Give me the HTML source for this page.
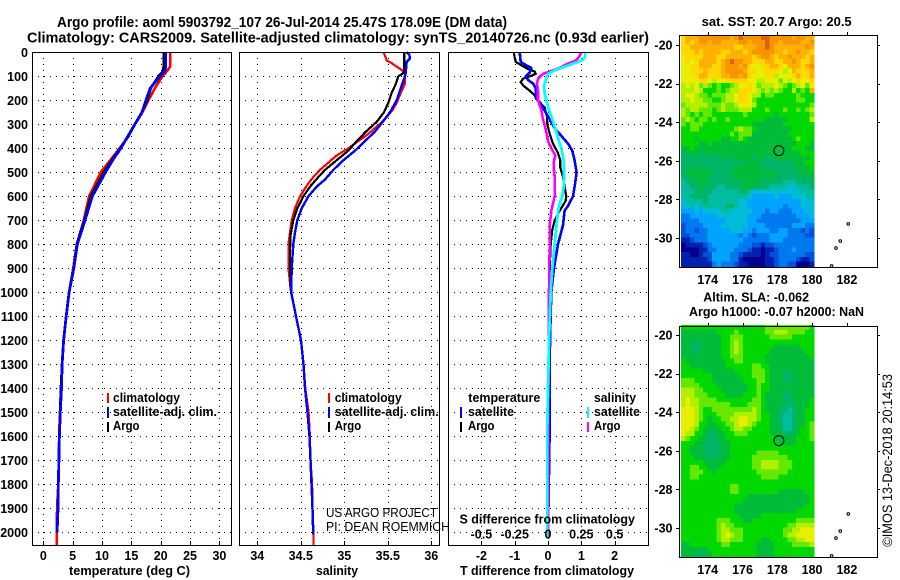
<!DOCTYPE html>
<html lang="en">
<head>
<meta charset="utf-8">
<title>Argo profile 5903792_107</title>
<style>
html,body{margin:0;padding:0;background:#fff;width:900px;height:580px;overflow:hidden}
svg{display:block}
text{font-family:"Liberation Sans",sans-serif;fill:#000}
.b{font-weight:bold;font-size:12.5px}
.t{font-weight:bold;font-size:15px}
.n{font-size:13px}
</style>
</head>
<body>
<svg id="chart" xmlns="http://www.w3.org/2000/svg" width="900" height="580" viewBox="0 0 900 580">
<g id="maps"></g>
<g id="profiles"></g>
<text class="t" x="57" y="27" textLength="450" lengthAdjust="spacingAndGlyphs">Argo profile: aoml 5903792_107 26-Jul-2014 25.47S 178.09E (DM data)</text>
<text class="t" x="27" y="42.7" textLength="622" lengthAdjust="spacingAndGlyphs">Climatology: CARS2009. Satellite-adjusted climatology: synTS_20140726.nc (0.93d earlier)</text>

<text class="b" x="69" y="575" textLength="121" lengthAdjust="spacingAndGlyphs">temperature (deg C)</text>
<text class="b" x="316" y="575" textLength="42" lengthAdjust="spacingAndGlyphs">salinity</text>
<text class="b" x="460" y="575" textLength="174" lengthAdjust="spacingAndGlyphs">T difference from climatology</text>
<text class="b" x="459.5" y="523.5" textLength="175.5" lengthAdjust="spacingAndGlyphs">S difference from climatology</text>

<g>
<rect x="107" y="393" width="2" height="10" fill="#f00"/>
<text class="b" x="113" y="402" textLength="67" lengthAdjust="spacingAndGlyphs">climatology</text>
<rect x="107" y="407" width="2" height="11" fill="#00f"/>
<text class="b" x="113" y="416" textLength="104" lengthAdjust="spacingAndGlyphs">satellite-adj. clim.</text>
<rect x="107" y="422" width="2" height="10" fill="#000"/>
<text class="b" x="113" y="430" textLength="26.5" lengthAdjust="spacingAndGlyphs">Argo</text>
</g>
<g>
<rect x="328" y="393" width="2" height="10" fill="#f00"/>
<text class="b" x="334.7" y="402" textLength="67" lengthAdjust="spacingAndGlyphs">climatology</text>
<rect x="328" y="407" width="2" height="11" fill="#00f"/>
<text class="b" x="334.7" y="416" textLength="104" lengthAdjust="spacingAndGlyphs">satellite-adj. clim.</text>
<rect x="328" y="422" width="2" height="10" fill="#000"/>
<text class="b" x="334.7" y="430" textLength="26.5" lengthAdjust="spacingAndGlyphs">Argo</text>
</g>
<g>
<text class="b" x="468.3" y="402" textLength="72" lengthAdjust="spacingAndGlyphs">temperature</text>
<rect x="460" y="407" width="2" height="11" fill="#00f"/>
<text class="b" x="468" y="416" textLength="46" lengthAdjust="spacingAndGlyphs">satellite</text>
<rect x="460" y="422" width="2" height="10" fill="#000"/>
<text class="b" x="468" y="430" textLength="26.5" lengthAdjust="spacingAndGlyphs">Argo</text>
<text class="b" x="594" y="402" textLength="42" lengthAdjust="spacingAndGlyphs">salinity</text>
<rect x="587" y="407" width="2" height="11" fill="#0ff"/>
<text class="b" x="594" y="416" textLength="46" lengthAdjust="spacingAndGlyphs">satellite</text>
<rect x="587" y="422" width="2" height="10" fill="#f0f"/>
<text class="b" x="594" y="430" textLength="26.5" lengthAdjust="spacingAndGlyphs">Argo</text>
</g>

<text class="n" x="326" y="517" textLength="111" lengthAdjust="spacingAndGlyphs">US ARGO PROJECT</text>
<text class="n" x="326" y="531" textLength="124" lengthAdjust="spacingAndGlyphs">PI: DEAN ROEMMICH</text>

<text class="b" x="701.7" y="26" textLength="150" lengthAdjust="spacingAndGlyphs">sat. SST: 20.7 Argo: 20.5</text>
<text class="b" x="703.3" y="301.7" textLength="105.7" lengthAdjust="spacingAndGlyphs">Altim. SLA: -0.062</text>
<text class="b" x="689" y="316" textLength="175" lengthAdjust="spacingAndGlyphs">Argo h1000: -0.07 h2000: NaN</text>
<text class="n" transform="translate(892,546.7) rotate(-90)" x="0" y="0" textLength="172.7" lengthAdjust="spacingAndGlyphs" style="font-size:14px">©IMOS 13-Dec-2018 20:14:53</text>
</svg>

<script>
/* ---------- axis ticks ---------- */
const depthTicks = [0,100,200,300,400,500,600,700,800,900,1000,1100,1200,1300,1400,1500,1600,1700,1800,1900,2000];
const tempTicks = [0,5,10,15,20,25,30];
const salinityTicks = [34,34.5,35,35.5,36];
const tDiffTicks = [-2,-1,0,1,2];
const sDiffTicks = [-0.5,-0.25,0,0.25,0.5];
const lonTicks = [174,176,178,180,182];
const latTicks = [-20,-22,-24,-26,-28,-30];

/* ---------- temperature panel (deg C) ---------- */
const tempDepths = [0,60,80,100,150,200,250,300,350,400,450,500,600,700,800,900,1000,1100,1200,1300,1400,1500,1600,1700,1800,1900,2000,2055];
const tempClim = [21.6,21.6,21.0,20.3,19.0,17.9,16.9,15.6,14.5,13.0,11.4,9.8,7.8,6.9,5.7,5.1,4.4,3.9,3.45,3.2,3.0,2.85,2.7,2.65,2.55,2.35,2.3,2.3];
const tempArgo = [20.5,20.5,20.4,19.6,18.3,17.7,16.8,15.6,14.5,13.1,11.65,10.3,8.1,7.0,5.7,5.2,4.4,3.9,3.45,3.2,3.0,2.9,2.75,2.65,2.55,2.5,2.35];
const tempSat = [20.85,20.85,20.7,19.9,18.2,17.5,16.8,15.6,14.4,13.2,11.8,10.6,8.35,7.1,5.8,5.2,4.4,3.9,3.45,3.2,3.1,2.9,2.75,2.65,2.55,2.5,2.35];

/* ---------- salinity panel ---------- */
const salClimDepths = [0,20,35,45,60,75,90,130,170,210,240,270,300,340,380,400,430,460,490,520,550,600,650,700,750,800,900,1000,1100,1200,1300,1400,1500,1600,1700,1800,1900,2000,2055];
const salClim = [35.449,35.475,35.487,35.544,35.602,35.667,35.698,35.698,35.648,35.602,35.556,35.487,35.403,35.276,35.123,35.046,34.912,34.816,34.721,34.644,34.579,34.491,34.433,34.395,34.376,34.357,34.357,34.387,34.445,34.502,34.531,34.552,34.59,34.605,34.611,34.63,34.634,34.645,34.645];
const salArgoDepths = [0,80,90,100,130,170,210,250,290,330,370,410,450,490,520,560,600,650,700,760,830,900,1000,1100,1200,1300,1400,1500,1600,1700,1800,1900,2000];
const salArgo = [35.69,35.69,35.667,35.621,35.594,35.544,35.506,35.456,35.372,35.249,35.142,35.046,34.912,34.778,34.701,34.606,34.529,34.46,34.414,34.383,34.376,34.376,34.387,34.445,34.502,34.531,34.548,34.577,34.6,34.611,34.623,34.634,34.64];
const salSatDepths = [0,10,25,40,90,120,150,200,250,290,330,370,410,450,490,530,560,600,650,700,750,800,900,1000,1100,1200,1300,1400,1500,1600,1700,1800,1900,2010];
const salSat = [35.717,35.747,35.755,35.717,35.705,35.678,35.648,35.602,35.525,35.441,35.353,35.238,35.123,34.989,34.874,34.778,34.682,34.587,34.51,34.46,34.433,34.414,34.395,34.39,34.445,34.502,34.531,34.548,34.577,34.6,34.611,34.623,34.634,34.645];

/* ---------- difference panel ---------- */
const dTArgoDepths = [0,20,40,50,70,80,90,100,110,125,140,160,180,200,230,270,300,340,380,420,450,480,520,560,600,620,660,700,740,800,900,1000,1200,1400,1560];
const dTArgo = [-1.03,-1.0,-0.97,-0.85,-0.6,-0.4,-0.37,-0.55,-0.75,-0.82,-0.73,-0.55,-0.4,-0.3,-0.1,-0.03,-0.02,0.05,0.15,0.3,0.37,0.37,0.45,0.5,0.55,0.53,0.35,0.2,0.13,0.08,0.05,0.05,0.04,0.05,0.05];
const dTSatDepths = [0,40,55,65,85,100,115,130,150,190,220,250,280,320,340,360,380,410,450,500,550,600,640,660,720,800,900,1000,1200,1400,1560,2020];
const dTSat = [-0.85,-0.82,-0.65,-0.5,-0.55,-0.67,-0.6,-0.45,-0.37,-0.37,-0.2,-0.07,0.05,0.22,0.35,0.47,0.6,0.73,0.8,0.86,0.81,0.75,0.6,0.5,0.45,0.3,0.18,0.1,0.06,0.05,0.05,0];
const dSSatDepths = [0,20,35,50,65,75,90,110,140,170,200,240,290,340,370,400,450,500,560,600,640,700,800,900,1000,1200,1560,2020];
const dSSat = [0.28,0.28,0.25,0.175,0.1,0.05,0,-0.0125,-0.03,-0.025,-0.0125,0.0075,0.0375,0.0675,0.0825,0.1,0.1175,0.12,0.1175,0.1075,0.0825,0.0675,0.05,0.0325,0.02,0.0075,-0.005,-0.005];
const dSArgoDepths = [0,20,35,50,65,80,90,110,130,160,200,240,280,320,370,400,430,460,480,520,600,660,720,800,1000,1500,2020];
const dSArgo = [0.25,0.2325,0.2075,0.1375,0.0875,0.0125,-0.0375,-0.075,-0.0825,-0.075,-0.075,-0.05,-0.0375,-0.0175,0,0.025,0.055,0.0425,0.0425,0.05,0.05,0.025,0.0125,0.0125,0.0075,0.0025,0];

/* ---------- map data: colour-scale levels, row = latitude band, col = longitude ---------- */
const sstLevels = [
[13,14,14,14,15,15,15,15,15,15,15,14,15,16,15,15,15,15,16,16,15,15,15,15,15,14,15,15,14,14],
[13,14,13,14,15,15,14,15,15,14,14,14,14,15,15,14,15,15,15,16,15,15,14,15,15,15,15,14,14,15],
[13,13,14,14,14,14,14,14,14,14,14,14,13,13,14,14,14,15,15,16,15,14,14,14,14,14,14,14,15,14],
[13,13,13,14,13,14,14,14,14,13,13,14,14,14,13,14,15,15,15,15,15,14,14,13,14,14,15,14,14,13],
[12,13,13,13,13,14,14,14,13,13,14,14,14,14,14,14,13,14,15,15,14,13,14,14,15,14,14,14,13,14],
[12,13,12,13,14,14,14,14,13,14,15,16,15,15,14,14,13,13,13,14,14,13,13,14,14,15,14,13,13,14],
[12,12,13,13,14,14,14,13,13,14,15,15,15,14,15,13,12,12,13,13,14,14,13,12,14,14,14,13,14,15],
[12,12,13,13,13,14,13,13,13,14,15,15,15,15,14,13,13,12,12,13,13,13,12,11,12,14,13,13,13,14],
[12,12,12,13,14,14,13,13,13,14,14,15,15,14,15,13,12,12,12,13,13,11,12,12,12,13,14,13,13,14],
[12,12,12,12,13,13,12,11,12,12,13,13,13,13,13,12,12,11,11,12,12,12,10,12,11,12,13,12,12,13],
[11,12,11,12,10,11,10,9,10,9,9,10,11,12,12,13,12,10,11,11,11,12,11,10,9,10,11,12,10,12],
[11,11,11,12,11,9,9,9,10,9,10,11,11,13,13,13,12,11,10,11,10,11,10,9,9,11,9,10,9,14],
[11,12,12,11,10,10,9,10,10,10,11,11,12,13,13,12,11,11,9,10,10,9,9,9,9,9,10,9,9,9],
[11,11,12,11,11,10,10,9,9,10,11,11,12,13,13,12,10,9,9,9,9,9,9,9,9,9,10,10,9,9],
[10,11,11,11,11,11,10,10,10,11,10,10,11,12,12,12,11,9,9,9,9,9,9,9,9,9,9,9,9,10],
[11,10,11,11,10,10,10,9,10,11,10,10,10,11,11,11,9,9,9,10,9,9,9,10,9,9,10,9,10,11],
[11,10,9,10,9,10,10,9,9,9,9,9,9,9,10,9,9,9,9,9,9,8,9,9,9,9,9,9,9,10],
[10,11,10,9,10,10,9,10,9,9,10,9,9,9,9,9,9,9,9,8,8,8,8,8,9,9,9,9,9,11],
[10,9,10,10,10,9,9,9,9,9,9,9,9,9,9,9,8,8,8,8,8,8,8,9,9,9,9,9,9,9],
[9,9,10,10,9,9,9,9,9,9,9,9,10,11,10,10,9,8,8,8,8,8,8,8,8,9,9,9,9,9],
[9,9,9,9,9,9,9,9,9,9,9,10,9,10,10,10,8,8,8,8,8,8,8,8,9,9,9,9,9,9],
[9,9,9,8,9,9,9,9,9,8,8,9,9,10,9,8,8,8,8,8,8,8,8,8,8,9,10,9,9,9],
[9,9,9,9,8,8,9,8,8,8,8,8,8,8,8,8,8,8,8,8,8,8,8,8,8,8,9,9,9,8],
[8,8,9,8,8,8,8,8,8,8,8,8,8,8,8,8,8,8,8,8,8,8,8,8,8,9,9,9,8,8],
[7,8,8,8,7,8,8,8,8,8,8,8,8,8,8,8,8,8,8,8,8,8,8,8,8,8,8,9,9,9],
[7,7,7,7,7,7,7,7,7,7,8,7,8,8,8,8,7,8,8,7,7,8,8,8,8,8,8,8,8,9],
[7,7,7,7,7,7,7,7,7,7,7,7,7,7,8,8,8,8,7,7,7,7,7,7,7,8,8,8,9,9],
[7,7,8,7,8,7,7,7,7,7,7,7,8,8,8,8,8,8,7,7,7,7,7,7,7,7,8,8,8,9],
[7,8,8,8,8,8,8,7,7,7,7,8,8,8,8,8,8,8,8,8,8,7,7,7,7,7,7,8,8,8],
[7,7,8,8,8,8,7,7,7,7,7,7,8,8,8,8,8,8,7,8,8,7,7,7,7,7,7,7,7,8],
[6,7,7,7,8,8,7,7,7,7,7,7,7,7,8,8,8,8,7,7,7,7,7,6,6,6,7,7,7,7],
[6,6,7,7,8,7,7,7,6,6,7,7,7,7,8,8,7,7,7,7,6,6,6,6,5,5,6,6,6,7],
[6,6,6,7,7,7,7,6,6,6,6,6,6,7,7,6,5,5,5,5,5,5,5,5,5,5,5,6,6,6],
[6,6,7,7,7,7,6,6,6,6,6,6,6,6,6,5,4,4,4,4,4,5,4,4,4,5,5,5,6,6],
[5,6,6,6,6,7,6,6,6,6,6,6,6,5,5,4,4,4,4,4,4,4,4,4,4,4,4,5,5,5],
[5,5,6,5,6,6,6,6,6,6,7,7,6,5,5,4,4,4,4,4,4,4,4,3,4,4,4,5,5,5],
[4,4,4,5,4,5,5,5,5,6,6,5,5,5,5,5,4,4,4,3,4,4,3,3,3,4,4,4,5,5],
[3,3,4,4,4,4,4,4,5,5,5,5,5,5,5,4,4,4,3,3,3,3,3,3,3,3,4,4,4,5],
[3,3,3,3,4,4,4,4,4,4,5,5,5,5,5,4,4,3,3,3,3,3,3,3,3,3,3,4,4,4],
[2,3,3,3,3,4,4,4,4,5,5,5,5,5,5,4,4,4,4,3,3,3,3,3,3,4,4,4,3,3],
[2,3,3,2,3,3,4,4,4,4,4,5,5,5,4,4,3,4,4,4,3,3,4,4,3,3,3,2,3,2],
[2,2,3,3,3,3,4,4,4,4,4,4,4,3,4,3,2,3,3,3,4,4,4,4,3,3,3,3,2,2],
[1,1,2,3,3,3,4,4,4,4,4,4,4,4,3,3,3,3,3,3,4,4,4,3,3,3,3,3,3,3],
[0,1,1,1,1,2,3,4,4,4,4,4,4,3,3,3,2,2,1,2,2,3,3,3,3,3,3,3,3,3],
[0,0,0,0,1,1,3,3,4,4,4,4,3,3,3,2,1,1,0,1,1,2,3,3,3,4,3,3,3,3],
[1,1,0,0,1,2,2,4,4,4,4,3,3,2,1,1,1,1,0,1,2,2,3,3,3,3,3,3,2,2],
[1,1,1,1,1,1,2,4,4,4,4,3,3,1,0,0,0,0,0,1,1,2,3,3,3,3,2,1,1,2],
[1,1,1,1,1,1,1,3,4,3,3,3,2,1,1,0,0,0,0,1,1,2,3,3,2,2,0,0,0,1]
];
const slaLevels = [
[9,9,9,9,9,9,9,9,9,9,9,9,9,9,9,9,9,9,9,10,10,10,10,10,10,10,10,10,10,9],
[8,8,8,8,8,8,8,8,9,9,9,9,10,9,9,9,9,9,9,10,10,11,11,11,10,10,10,10,9,9],
[8,8,8,8,8,8,8,8,8,9,9,10,10,10,9,9,9,9,9,9,10,10,10,10,10,9,9,9,9,9],
[8,8,8,7,8,8,8,8,8,9,9,10,11,10,9,9,9,9,9,9,9,9,9,9,9,9,9,9,9,9],
[8,8,7,7,7,8,8,8,8,9,9,10,11,10,9,9,9,9,9,9,9,8,8,8,8,8,8,9,9,9],
[8,8,8,7,8,8,8,8,8,9,9,10,11,10,9,9,9,9,9,9,8,8,8,8,8,8,8,8,9,9],
[8,8,8,8,8,8,8,8,8,9,9,10,10,10,9,9,9,9,9,8,8,8,8,8,8,8,8,8,8,9],
[9,8,8,8,8,8,8,8,8,8,9,9,10,10,9,9,9,9,9,8,8,8,8,8,8,8,8,8,8,8],
[9,9,8,8,8,8,8,8,8,8,9,9,9,9,9,9,10,10,9,9,8,8,8,8,8,8,8,8,8,8],
[9,9,9,9,9,8,8,8,8,8,8,8,9,9,9,9,10,10,10,9,8,8,8,8,7,8,8,8,8,8],
[9,9,9,9,9,9,9,8,8,8,8,8,8,9,9,9,10,10,10,9,8,8,8,7,7,8,8,8,8,8],
[10,10,10,9,9,9,9,8,8,8,8,8,8,8,9,9,9,10,10,9,8,8,8,7,7,8,8,8,8,8],
[10,10,10,10,9,9,9,9,8,8,8,8,8,8,8,9,9,10,9,9,8,8,8,8,8,8,8,8,8,8],
[11,11,11,10,10,9,9,9,9,8,8,8,8,8,8,9,9,10,9,9,8,8,8,7,8,8,8,8,8,8],
[11,11,11,10,10,10,9,9,9,9,8,8,8,8,9,9,9,10,9,8,8,8,8,7,7,8,8,8,8,8],
[11,12,11,11,10,10,10,10,9,9,9,9,9,9,9,9,10,10,9,8,8,8,8,7,7,8,8,8,8,9],
[11,12,11,11,10,10,10,10,10,10,10,9,9,9,9,10,10,10,9,8,8,8,8,7,7,7,8,8,8,9],
[12,12,12,11,10,9,9,10,10,10,10,10,10,10,10,10,11,10,9,8,8,8,7,7,6,7,8,8,9,9],
[12,12,12,11,10,9,9,9,10,10,10,10,11,11,11,11,11,10,9,9,8,8,7,6,6,7,8,8,9,9],
[12,12,12,11,10,9,8,9,9,10,10,11,11,12,12,11,11,10,9,9,8,8,7,6,6,7,8,8,9,9],
[12,12,12,11,9,9,8,8,9,9,10,10,11,12,12,11,10,9,9,9,8,8,7,6,6,7,8,8,9,10],
[12,12,11,10,9,8,8,8,8,9,9,10,11,11,10,10,9,9,9,9,8,8,7,6,6,7,8,9,9,10],
[12,11,11,9,9,8,7,7,8,8,9,9,10,10,10,9,9,9,9,9,8,8,8,7,7,8,8,9,9,10],
[11,10,9,9,8,8,7,7,8,8,9,9,9,9,9,9,9,9,9,9,9,8,8,8,8,8,9,9,9,10],
[9,9,9,8,8,7,7,7,7,8,8,9,9,9,9,9,9,9,9,9,9,9,8,8,8,8,9,9,9,9],
[9,9,8,8,8,7,7,7,7,8,8,9,9,9,9,9,9,9,9,9,9,9,9,9,9,9,9,9,9,9],
[9,9,8,8,8,7,7,7,7,8,8,9,9,9,9,9,9,10,10,10,10,10,9,9,9,9,9,9,9,9],
[9,9,9,8,8,8,7,7,8,8,8,9,9,9,9,9,10,10,10,10,10,10,10,10,9,9,9,9,9,9],
[9,9,9,9,9,8,8,8,8,8,9,9,9,9,9,9,10,10,11,11,11,11,10,10,10,9,9,9,9,9],
[9,9,10,10,9,9,8,8,8,9,9,9,9,9,9,9,10,10,11,11,11,11,10,10,10,9,9,9,9,9],
[9,9,10,10,10,9,9,8,9,9,9,9,9,9,9,9,9,10,10,10,10,10,10,10,9,9,9,9,9,9],
[9,9,10,10,9,9,9,9,9,9,9,9,9,9,9,9,9,9,10,10,10,10,9,9,9,9,9,9,9,9],
[9,9,9,9,9,9,9,9,9,9,9,9,9,9,9,9,9,9,9,9,9,9,9,9,9,9,9,9,9,9],
[9,9,9,9,9,9,9,9,9,9,9,10,10,9,9,9,9,9,9,9,9,9,9,9,9,9,9,9,9,9],
[9,9,9,9,9,9,9,9,9,9,9,10,10,9,9,9,9,9,9,9,9,9,8,8,8,8,8,8,9,9],
[9,9,9,9,9,9,9,9,9,9,9,9,9,9,9,8,8,8,8,8,8,8,8,8,8,8,8,8,8,9],
[9,9,9,9,9,9,9,9,9,9,9,9,9,9,8,8,8,8,8,8,8,8,8,8,8,8,8,8,8,9],
[9,9,9,9,9,9,9,9,9,9,9,9,8,8,8,8,8,8,8,8,8,8,8,8,8,8,8,8,9,9],
[9,9,9,9,9,9,9,9,9,9,9,9,8,8,8,8,8,8,8,8,8,8,8,8,8,8,9,9,9,9],
[9,9,9,9,9,9,9,9,9,9,9,9,9,8,8,8,8,8,9,9,9,9,9,9,9,9,9,9,9,9],
[9,9,9,9,9,9,9,9,10,10,10,9,9,9,8,8,9,9,9,9,9,9,9,9,9,9,10,10,10,10],
[9,9,9,9,9,9,9,9,10,11,10,10,9,9,9,9,9,9,9,9,9,9,9,9,10,10,11,11,11,11],
[9,9,9,9,9,9,9,9,10,11,11,10,10,10,9,9,9,9,9,9,9,9,9,10,10,11,11,12,12,12],
[9,9,9,9,9,9,9,9,10,11,12,11,10,10,9,9,9,9,9,9,9,9,9,10,11,11,12,12,12,12],
[9,9,9,9,9,9,9,9,10,11,11,10,10,10,9,9,9,9,8,8,9,9,9,9,10,10,11,11,12,12],
[8,8,9,9,9,9,9,9,9,10,10,9,9,9,9,9,9,8,8,8,8,9,9,9,9,10,10,10,10,11],
[8,8,8,8,8,8,9,9,9,9,9,9,9,9,9,9,9,8,8,8,8,9,9,9,9,9,9,9,9,9],
[8,8,8,7,7,8,8,9,9,9,9,9,9,9,9,9,9,8,8,8,8,9,9,9,9,9,9,9,9,9]
];
const levelColors = ["#00008c","#0020b0","#0050e0","#0078f0","#00a4ff","#00bcd8","#00bca0","#00b468","#00bc38","#00d800","#64e800","#b0f000","#e8f000","#ffd800","#ffb000","#f89400","#dc6400"];
const floatLon = [178.09];
const floatLat = [-25.47];
const islandLons = [182.08,181.62,181.37,181.12];
const islandLats = [-29.27,-30.16,-30.52,-31.45];

/* ---------- scales ---------- */
const PANEL_TOP = 52, PANEL_BOTTOM = 545;
const depthY = d => 52.3 + 0.24 * d;
const tempX = v => 43.3 + 5.87 * v;
const salX = v => 257.3 + 87 * (v - 34);
const dTX = v => 548 + 33.3 * v;
const dSX = v => 548 + 133.2 * v;
const lonX = v => 707.7 + 17.4 * (v - 174);
const sstLatY = v => 45 + 19.3 * (-20 - v);
const slaLatY = v => 335 + 19.3 * (-20 - v);

const NS = "http://www.w3.org/2000/svg";
function make(parent, tag, props) {
  const el = document.createElementNS(NS, tag);
  for (const k in props) el.setAttribute(k, props[k]);
  parent.appendChild(el);
  return el;
}
const profiles = document.getElementById("profiles");
const mapsGroup = document.getElementById("maps");

function drawLine(g, depths, vals, xf, color, width, name) {
  const pts = vals.map((v, i) => xf(v).toFixed(1) + "," + depthY(depths[i]).toFixed(1)).join(" ");
  const el = make(g, "polyline", {points: pts, fill: "none", stroke: color, "stroke-width": width, "shape-rendering": "crispEdges", "stroke-linejoin": "round"});
  
  
}

function drawPanel(name, left, right, xf, ticks, labelTicks, withDepthLabels) {
  const g = make(profiles, "g", {});
  
  
  ticks.forEach(t => {
    const x = Math.round(xf(t)) + 0.5;
    const line = make(g, "line", {x1: x, x2: x, y1: PANEL_TOP, y2: PANEL_BOTTOM, stroke: "#000", "stroke-width": 1, "stroke-dasharray": "1 5", "shape-rendering": "crispEdges"});
    
    
    const tick = make(g, "line", {x1: x, x2: x, y1: PANEL_BOTTOM - 4, y2: PANEL_BOTTOM, stroke: "#000", "shape-rendering": "crispEdges"});
    
    
    if (labelTicks) {
      const lab = make(g, "text", {x: xf(t), y: 560, "text-anchor": "middle", class: "b"});
      lab.textContent = String(t);
      
      
    }
  });
  depthTicks.forEach(d => {
    const y = Math.round(depthY(d)) + 0.5;
    if (d > 0) {
      const line = make(g, "line", {x1: left, x2: right, y1: y, y2: y, stroke: "#000", "stroke-width": 1, "stroke-dasharray": "1 5", "shape-rendering": "crispEdges"});
      
      
    }
    if (withDepthLabels) {
      const lab = make(g, "text", {x: 28, y: depthY(d) + 4.5, "text-anchor": "end", class: "b"});
      lab.textContent = String(d);
      
      
    }
  });
  return g;
}

function drawFrame(g, left, right, top, bottom, name) {
  const r = make(g, "rect", {x: left + 0.5, y: top + 0.5, width: right - left, height: bottom - top, fill: "none", stroke: "#000", "stroke-width": 1, "shape-rendering": "crispEdges"});
  
  
}

/* temperature */
const pT = drawPanel("temperature-panel", 32, 231, tempX, tempTicks, true, true);
drawLine(pT, tempDepths, tempClim, tempX, "#f00", 2.6, "temperature-climatology-line");
drawLine(pT, tempDepths, tempArgo, tempX, "#000", 2.6, "temperature-argo-line");
drawLine(pT, tempDepths, tempSat, tempX, "#00f", 2.8, "temperature-satellite-line");
drawFrame(pT, 32, 231, 52, 545, "temperature-panel-frame");

/* salinity */
const pS = drawPanel("salinity-panel", 239, 439, salX, salinityTicks, true, false);
drawLine(pS, salClimDepths, salClim, salX, "#f00", 2.2, "salinity-climatology-line");
drawLine(pS, salArgoDepths, salArgo, salX, "#000", 2.2, "salinity-argo-line");
drawLine(pS, salSatDepths, salSat, salX, "#00f", 2.4, "salinity-satellite-line");
drawFrame(pS, 239, 439, 52, 545, "salinity-panel-frame");

/* differences */
const pD = drawPanel("difference-panel", 448, 648, dTX, tDiffTicks, true, false);
drawLine(pD, dTArgoDepths, dTArgo, dTX, "#000", 2.2, "t-difference-argo-line");
drawLine(pD, dTSatDepths, dTSat, dTX, "#00f", 2.6, "t-difference-satellite-line");
drawLine(pD, dSArgoDepths, dSArgo, dSX, "#f0f", 2.6, "s-difference-argo-line");
drawLine(pD, dSSatDepths, dSSat, dSX, "#0ff", 2.8, "s-difference-satellite-line");
drawFrame(pD, 448, 648, 52, 545, "difference-panel-frame");
sDiffTicks.forEach(t => {
  const lab = make(pD, "text", {x: dSX(t), y: 538.5, "text-anchor": "middle", class: "b"});
  lab.textContent = String(t);
  
  
});

/* maps */
const MAP_LEFT = 679, MAP_RIGHT = 877;
const LON_START = 172.47, LON_STEP = 0.2545, LAT_START = -19.48, LAT_STEP = 0.25;

function drawMap(name, levels, latY, top, bottom, labelY) {
  const g = make(mapsGroup, "g", {});
  
  
  levels.forEach((row, r) => {
    row.forEach((lev, c) => {
      const x0 = lonX(LON_START + c * LON_STEP), x1 = lonX(LON_START + (c + 1) * LON_STEP);
      const y0 = latY(LAT_START - r * LAT_STEP), y1 = latY(LAT_START - (r + 1) * LAT_STEP);
      const idx = Math.max(0, Math.min(levelColors.length - 1, Math.round(lev)));
      const cell = make(g, "rect", {x: x0.toFixed(2), y: y0.toFixed(2), width: (x1 - x0 + 0.4).toFixed(2), height: (y1 - y0 + 0.4).toFixed(2), fill: levelColors[idx], "shape-rendering": "crispEdges"});
      
      
    });
  });
  islandLons.forEach((lon, i) => {
    const isl = make(g, "circle", {cx: lonX(lon), cy: latY(islandLats[i]), r: 1.3, fill: "#fff", stroke: "#000", "stroke-width": 1});
    
    
  });
  floatLon.forEach((lon, i) => {
    const mark = make(g, "circle", {cx: lonX(lon), cy: latY(floatLat[i]), r: 5, fill: "none", stroke: "#000", "stroke-width": 1});
    
    
  });
  lonTicks.forEach(t => {
    const x = Math.round(lonX(t)) + 0.5;
    const tick = make(g, "line", {x1: x, x2: x, y1: top - 3, y2: top, stroke: "#000", "shape-rendering": "crispEdges"});
    
    
    const lab = make(g, "text", {x: lonX(t), y: labelY, "text-anchor": "middle", class: "b"});
    lab.textContent = String(t);
    
    
  });
  latTicks.forEach(t => {
    const y = Math.round(latY(t)) + 0.5;
    const tickL = make(g, "line", {x1: MAP_LEFT - 3, x2: MAP_LEFT, y1: y, y2: y, stroke: "#000", "shape-rendering": "crispEdges"});
    
    
    const tickR = make(g, "line", {x1: MAP_RIGHT, x2: MAP_RIGHT + 3, y1: y, y2: y, stroke: "#000", "shape-rendering": "crispEdges"});
    
    
    const lab = make(g, "text", {x: 672.5, y: latY(t) + 4.5, "text-anchor": "end", class: "b"});
    lab.textContent = String(t);
    
    
  });
  drawFrame(g, MAP_LEFT, MAP_RIGHT, top, bottom, name + "-frame");
}
drawMap("sst-map", sstLevels, sstLatY, 35, 267, 284);
drawMap("sla-map", slaLevels, slaLatY, 326, 557, 574);
</script>
</body>
</html>
